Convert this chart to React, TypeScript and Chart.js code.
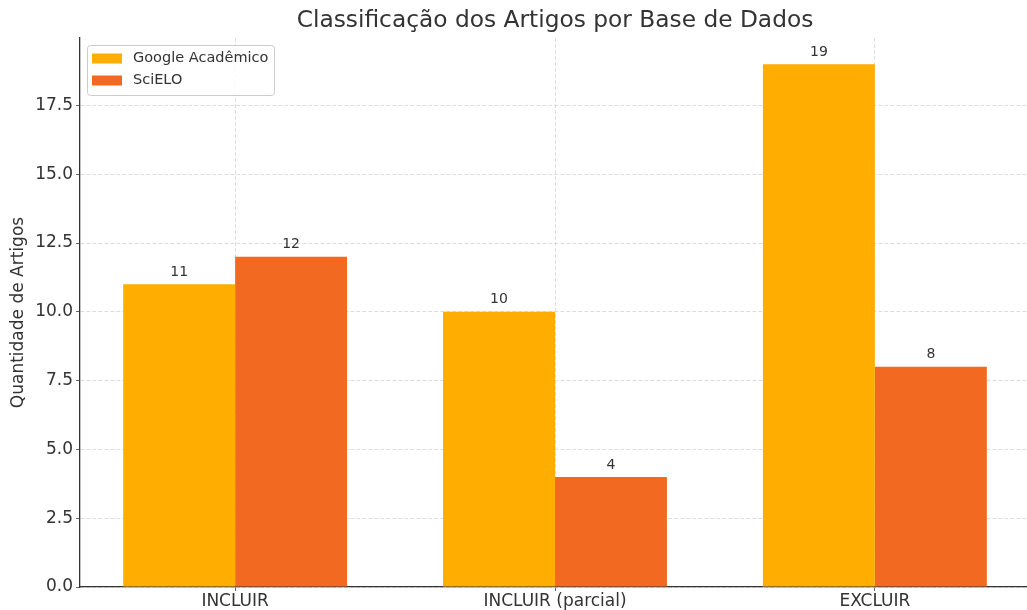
import React, { useEffect, useRef } from "react";
import { Chart, registerables } from "chart.js";

Chart.register(...registerables);

const categories = ["INCLUIR", "INCLUIR (parcial)", "EXCLUIR"];
const googleValues = [11, 10, 19];
const scieloValues = [12, 4, 8];
const seriesNames = ["Google Acadêmico", "SciELO"];
const seriesColors = ["#FFAE00", "#F26A22"];
const titleText = "Classificação dos Artigos por Base de Dados";
const yTitle = "Quantidade de Artigos";

const FONT = "'DejaVu Sans', sans-serif";

export default function App() {
  const ref = useRef<HTMLCanvasElement | null>(null);
  useEffect(() => {
    if (!ref.current) return;
    const labelsPlugin = {
      id: "extras",
      afterDatasetsDraw(chart: any) {
        const ctx = chart.ctx;
        ctx.save();
        ctx.font = `14px ${FONT}`;
        ctx.fillStyle = "#333333";
        ctx.textAlign = "center";
        ctx.textBaseline = "bottom";
        chart.data.datasets.forEach((ds: any, di: number) => {
          const meta = chart.getDatasetMeta(di);
          meta.data.forEach((el: any, i: number) => {
            ctx.fillText(String(ds.data[i].y), el.x, el.y - 5);
          });
        });
        // title
        const ca = chart.chartArea;
        ctx.font = `23.3px ${FONT}`;
        ctx.textBaseline = "middle";
        ctx.fillStyle = "#333333";
        ctx.fillText(titleText, (ca.left + ca.right) / 2, 21);
        // legend
        const lx = 87.5, ly = 45.5, lw = 187, lh = 50;
        ctx.fillStyle = "rgba(255,255,255,0.85)";
        ctx.strokeStyle = "#cccccc";
        ctx.lineWidth = 1;
        ctx.beginPath();
        (ctx as any).roundRect(lx, ly, lw, lh, 3);
        ctx.fill();
        ctx.stroke();
        ctx.font = `14.5px ${FONT}`;
        ctx.textAlign = "left";
        seriesNames.forEach((n, i) => {
          const cy = 58.5 + i * 22;
          ctx.fillStyle = seriesColors[i];
          ctx.fillRect(92, cy - 5, 30, 10);
          ctx.fillStyle = "#333333";
          ctx.fillText(n, 133, cy);
        });
        ctx.restore();
      },
    };
    const chart = new Chart(ref.current, {
      type: "bar",
      data: {
        datasets: [
          {
            label: seriesNames[0],
            data: googleValues.map((v, i) => ({ x: i, y: v })),
            backgroundColor: seriesColors[0],
            categoryPercentage: 0.7,
            barPercentage: 1.0,
          },
          {
            label: seriesNames[1],
            data: scieloValues.map((v, i) => ({ x: i, y: v })),
            backgroundColor: seriesColors[1],
            categoryPercentage: 0.7,
            barPercentage: 1.0,
          },
        ],
      },
      options: {
        animation: false,
        responsive: false,
        maintainAspectRatio: false,
        layout: { padding: { top: 38, right: 10, left: 0, bottom: 0 } },
        plugins: { legend: { display: false }, tooltip: { enabled: false }, title: { display: false } },
        scales: {
          x: {
            type: "linear",
            offset: false,
            min: -0.485,
            max: 2.485,
            afterBuildTicks: (s: any) => {
              s.ticks = categories.map((_, i) => ({ value: i }));
            },
            afterFit: (s: any) => {
              s.height = 23;
            },
            ticks: {
              callback: (v: any) => categories[v] ?? "",
              font: { family: FONT, size: 17 },
              color: "#333333",
              padding: 0,
              maxRotation: 0,
              autoSkip: false,
            },
            grid: {
              offset: false,
              color: "#d4d4d4",
              lineWidth: 0.8,
              drawTicks: true,
              tickLength: 4,
              tickColor: "#666666",
              tickWidth: 1,
              tickBorderDash: [],
            },
            border: { display: true, color: "#333333", width: 1.3, dash: [4, 2] } as any,
          },
          y: {
            min: 0,
            max: 19.95,
            afterFit: (s: any) => {
              s.width = 80;
            },
            ticks: {
              stepSize: 2.5,
              includeBounds: false,
              callback: (v: any) => Number(v).toFixed(1),
              font: { family: FONT, size: 17 },
              color: "#333333",
              padding: 3,
            },
            grid: {
              color: "#d4d4d4",
              lineWidth: 0.8,
              drawTicks: true,
              tickLength: 4,
              tickColor: "#666666",
              tickWidth: 1,
              tickBorderDash: [],
            },
            border: { display: true, color: "#333333", width: 1.3, dash: [4, 2] } as any,
            title: {
              display: true,
              text: yTitle,
              font: { family: FONT, size: 17 },
              color: "#333333",
              padding: { top: 8, bottom: 0 },
            },
          },
        },
      } as any,
      plugins: [labelsPlugin],
    });
    return () => chart.destroy();
  }, []);
  return (
    <div style={{ position: "fixed", left: 0, top: 0, width: 1027, height: 610, overflow: "hidden", background: "#fff" }}>
      <canvas ref={ref} width={1040} height={610} style={{ display: "block" }} />
    </div>
  );
}
